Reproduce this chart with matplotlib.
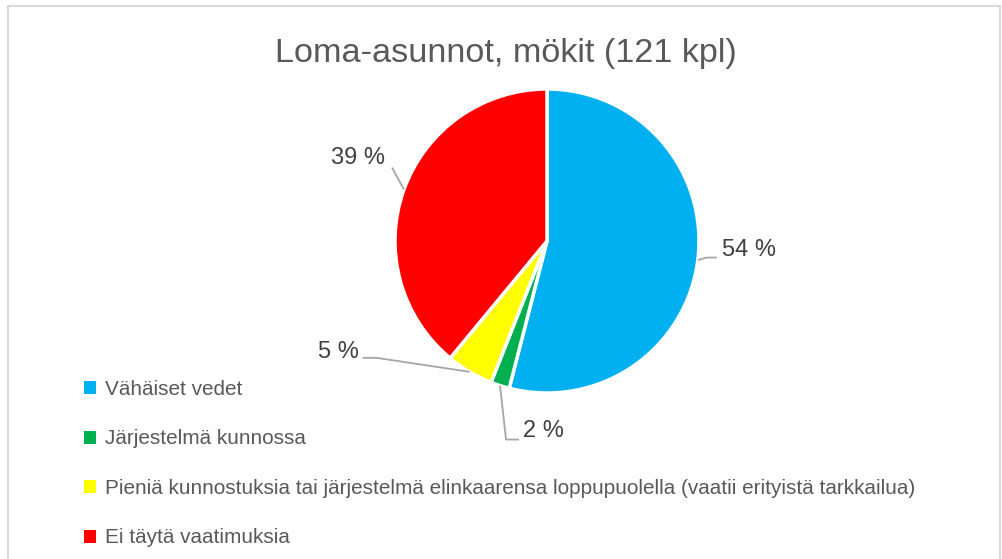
import numpy as np
import matplotlib
matplotlib.use("Agg")
from matplotlib import pyplot as plt
from matplotlib.patches import Rectangle

# chart data
title = "Loma-asunnot, mökit (121 kpl)"
categories = ["Vähäiset vedet",
              "Järjestelmä kunnossa",
              "Pieniä kunnostuksia tai järjestelmä elinkaarensa loppupuolella (vaatii erityistä tarkkailua)",
              "Ei täytä vaatimuksia"]
shares = [54, 2, 5, 39]
colors = ["#00B0F0", "#00B050", "#FFFF00", "#FF0000"]

W, H = 1003, 559
FONT = "Liberation Sans"
fig = plt.figure(figsize=(W / 100, H / 100), dpi=100)
ax = fig.add_axes([0, 0, 1, 1])
renderer = fig.canvas.get_renderer()


def fit_size(text, width_px, base=20):
    # font size so that text spans width_px pixels
    t = fig.text(0, 0, text, fontsize=base, family=FONT)
    w = t.get_window_extent(renderer).width
    t.remove()
    return base * width_px / w


# chart frame
ax.add_patch(Rectangle((8, -5), 992, H - 6 + 5, fill=False, edgecolor="#D9D9D9", linewidth=1.5))

cx, cy, r = 547, 318, 152
wedges, _ = ax.pie(shares, colors=colors, startangle=90, counterclock=False,
                   center=(cx, cy), radius=r, frame=True,
                   wedgeprops=dict(edgecolor="white", linewidth=2.5))
ax.set_xlim(0, W)
ax.set_ylim(0, H)
ax.set_aspect("equal")
ax.axis("off")

ax.text(506, 506, title, ha="center", va="center", fontsize=fit_size(title, 462),
        color="#595959", family=FONT)

# data labels with leader lines: (text x, text y, ha, elbow dx, elbow dy, tail length)
label_pos = [(722, 309, "left", 9, 2.5, 10),
             (523, 128, "left", 6, -54, 13),
             (338, 207, "center", -93, 14, -14),
             (358, 401, "center", -12, 22, 0)]
for w, s, (tx, ty, ha, ex, ey, tail) in zip(wedges, shares, label_pos):
    mid = np.deg2rad((w.theta1 + w.theta2) / 2)
    x0, y0 = cx + r * np.cos(mid), cy + r * np.sin(mid)
    xs = [x0, x0 + ex, x0 + ex + tail]
    ys = [y0, y0 + ey, y0 + ey]
    ax.plot(xs, ys, color="#A6A6A6", linewidth=1.3, solid_capstyle="butt")
    ax.text(tx, ty, f"{s} %", ha=ha, va="center", fontsize=17,
            color="#404040", family=FONT)

leg_size = fit_size(categories[2], 811)
px = leg_size * 100 / 72
leg = fig.legend(wedges, categories, loc="upper left",
                 bbox_to_anchor=(84 / W, 1 - 380 / H), frameon=False,
                 prop=dict(family=FONT, size=leg_size),
                 handlelength=12 / px, handleheight=12 / px, handletextpad=9 / px,
                 labelspacing=(54.4 - px * 1.15) / px, borderaxespad=0, borderpad=0)
for t in leg.get_texts():
    t.set_color("#595959")
for h in leg.legend_handles:
    h.set_edgecolor("none")

fig.savefig("out.png", dpi=100)
